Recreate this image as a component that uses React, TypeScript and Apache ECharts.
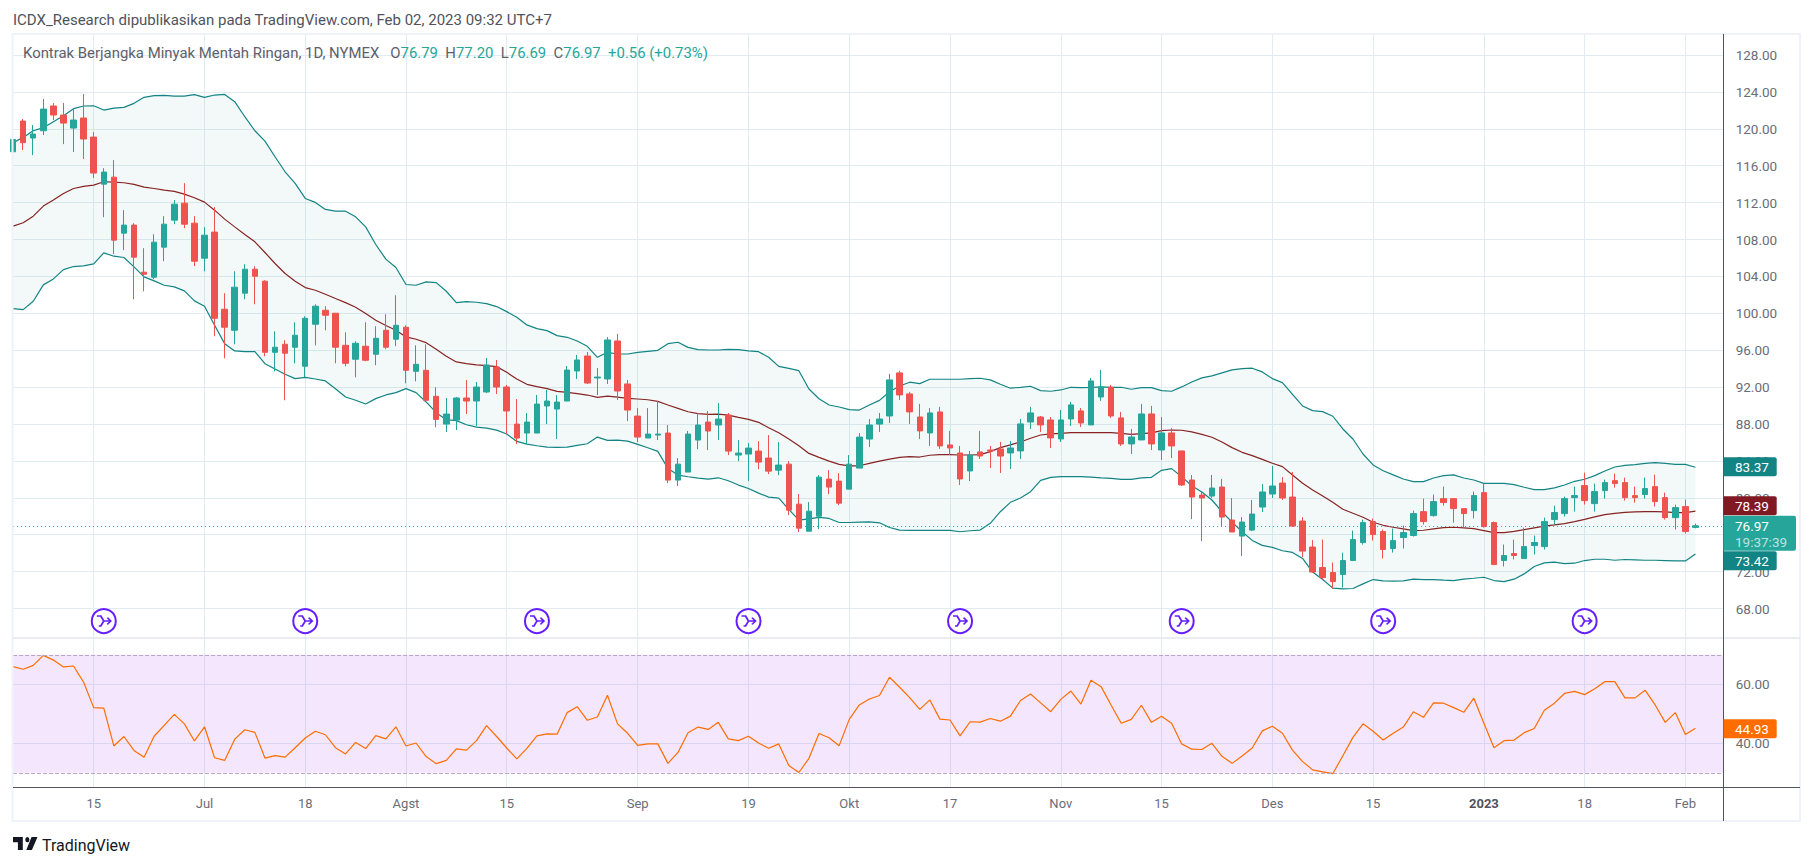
import React, { useEffect, useRef } from "react";
import * as echarts from "echarts";

// ---- dates ----
const tradingDays: [string, number[]][] = [
  ["2022-06", [3,6,7,8,9,10,13,14,15,16,17,21,22,23,24,27,28,29,30]],
  ["2022-07", [1,5,6,7,8,11,12,13,14,15,18,19,20,21,22,25,26,27,28,29]],
  ["2022-08", [1,2,3,4,5,8,9,10,11,12,15,16,17,18,19,22,23,24,25,26,29,30,31]],
  ["2022-09", [1,2,6,7,8,9,12,13,14,15,16,19,20,21,22,23,26,27,28,29,30]],
  ["2022-10", [3,4,5,6,7,10,11,12,13,14,17,18,19,20,21,24,25,26,27,28,31]],
  ["2022-11", [1,2,3,4,7,8,9,10,11,14,15,16,17,18,21,22,23,25,28,29,30]],
  ["2022-12", [1,2,5,6,7,8,9,12,13,14,15,16,19,20,21,22,23,27,28,29,30]],
  ["2023-01", [3,4,5,6,9,10,11,12,13,17,18,19,20,23,24,25,26,27,30,31]],
  ["2023-02", [1,2]],
];
const futureSlots = ["+1", "+2", "+3"];
const categories: string[] = tradingDays
  .flatMap(([m, ds]) => ds.map((d) => `${m}-${String(d).padStart(2, "0")}`))
  .concat(futureSlots);

const timeTicks: Record<string, string> = {
  "2022-06-15": "15", "2022-07-01": "Jul", "2022-07-18": "18", "2022-08-01": "Agst",
  "2022-08-15": "15", "2022-09-01": "Sep", "2022-09-19": "19", "2022-10-03": "Okt",
  "2022-10-17": "17", "2022-11-01": "Nov", "2022-11-15": "15", "2022-12-01": "Des",
  "2022-12-15": "15", "2023-01-03": "2023", "2023-01-18": "18", "2023-02-01": "Feb",
};

const eventDates = ["2022-06-16", "2022-07-18", "2022-08-18", "2022-09-19", "2022-10-18", "2022-11-17", "2022-12-16", "2023-01-18"];
const eventLevel = 66.64;

// ---- candles: open, close, low, high ----
const candles: number[][] = [
  [117.51,118.85,117.3,119.1],[120.84,118.49,117.69,121.06],[119.0,119.43,117.15,120.41],[119.79,122.14,119.32,123.23],
  [122.47,121.49,120.95,122.79],[121.49,120.62,118.34,122.79],[120.08,120.95,117.48,122.21],[121.17,118.89,116.72,123.77],
  [119.1,115.2,114.66,119.65],[114.0,115.31,110.42,115.74],[114.76,107.93,106.41,116.61],[108.69,109.56,106.84,111.18],
  [109.56,106.08,101.53,109.77],[104.46,104.24,102.39,107.06],[103.91,107.71,103.7,108.58],[107.17,109.66,105.65,110.53],
  [110.1,111.83,109.66,112.27],[111.94,109.66,109.23,114.11],[109.77,105.65,105.11,110.53],[105.97,108.47,104.56,109.34],
  [108.8,99.46,97.51,111.51],[100.44,98.49,95.12,102.18],[98.16,102.83,96.64,104.56],[102.18,104.78,101.53,105.32],
  [104.78,104.02,100.98,105.11],[103.48,95.77,95.34,103.59],[95.77,96.32,93.71,98.05],[96.64,95.67,90.57,97.08],
  [96.32,97.62,94.58,99.03],[94.26,99.46,93.06,99.68],[98.81,100.77,96.53,100.98],[100.33,99.79,98.16,100.77],
  [100.01,96.32,94.58,100.01],[96.53,94.58,94.26,97.94],[95.02,96.75,93.06,96.97],[96.43,94.91,94.8,99.03],
  [95.56,97.29,94.37,98.6],[98.16,96.32,96.1,99.9],[97.19,98.7,96.43,101.96],[98.49,93.82,92.41,98.7],
  [93.71,94.47,92.63,96.53],[93.82,90.57,90.57,96.64],[91.0,88.5,87.64,91.98],[87.99,89.08,87.13,90.82],
  [88.43,90.82,87.34,90.92],[90.82,90.49,89.08,92.77],[90.49,92.01,87.78,92.55],[91.47,94.4,91.36,95.16],
  [94.18,92.01,91.25,94.94],[92.01,89.41,86.91,92.23],[87.99,86.48,85.82,90.71],[87.02,88.21,85.82,89.19],
  [87.02,90.16,87.02,91.14],[89.95,90.49,87.99,91.68],[89.62,90.38,86.37,91.14],[90.49,93.85,90.49,94.29],
  [93.75,94.94,92.88,95.48],[95.37,92.44,92.34,95.81],[92.99,93.09,91.14,94.07],[92.88,97.11,92.34,97.43],
  [97.0,91.58,90.6,97.76],[92.34,89.51,88.32,92.77],[88.86,86.58,86.04,89.73],[86.48,86.91,86.48,89.73],
  [86.8,86.91,86.26,90.49],[87.02,81.92,81.59,87.89],[81.92,83.65,81.27,84.31],[82.79,86.91,82.79,87.24],
  [86.26,87.89,85.28,89.19],[88.21,87.24,85.17,89.41],[87.89,88.54,86.26,90.27],[88.97,85.06,84.63,89.19],
  [84.63,84.85,83.98,86.26],[84.74,85.39,81.81,85.93],[85.06,83.87,83.11,86.15],[84.31,82.89,82.57,86.8],
  [83.0,83.55,82.46,86.04],[83.65,78.66,78.12,83.98],[79.31,76.71,76.28,80.4],[76.38,78.55,76.38,79.53],
  [78.01,82.24,76.6,82.46],[82.03,81.16,80.4,83.0],[81.81,79.42,79.21,82.68],[80.94,83.65,80.94,84.63],
  [83.22,86.58,83.22,87.02],[86.37,87.89,85.5,88.54],[87.99,88.54,87.13,89.19],[88.87,92.78,88.11,93.43],
  [93.54,91.15,90.61,93.76],[91.26,89.31,88.01,91.48],[88.76,87.25,86.38,90.18],[87.03,89.2,85.62,89.74],
  [89.31,85.62,85.29,89.85],[85.73,85.4,84.64,87.25],[84.86,82.04,81.39,85.62],[82.91,84.64,81.82,85.08],
  [84.97,84.53,84.21,87.25],[85.18,85.08,83.23,85.62],[85.29,84.53,82.69,86.05],[84.86,85.4,83.12,86.16],
  [85.08,88.01,84.21,88.55],[88.22,89.2,87.46,89.85],[88.76,87.9,87.14,88.87],[88.44,86.49,85.4,88.76],
  [86.38,88.44,86.05,89.52],[88.55,90.07,87.79,90.39],[89.42,88.11,87.68,89.74],[87.9,92.67,87.9,93.0],
  [90.93,92.02,90.5,93.86],[91.98,88.87,88.66,92.24],[88.66,85.84,85.62,89.31],[85.84,86.59,84.75,87.46],
  [86.27,89.09,86.27,90.18],[89.09,85.84,85.18,89.96],[85.18,87.03,84.1,88.76],[87.03,85.62,84.32,87.57],
  [85.08,81.39,81.28,85.08],[81.93,80.08,77.7,82.47],[80.3,79.98,75.31,80.63],[80.19,81.06,79.98,82.47],
  [81.17,77.91,76.94,82.04],[77.59,76.29,76.29,79.98],[75.85,77.37,73.68,77.91],[76.5,78.24,76.39,79.76],
  [79.0,80.63,78.46,81.49],[80.41,81.28,79.98,83.45],[81.6,79.98,79.76,82.25],[80.08,76.94,76.83,82.8],
  [77.48,74.22,73.57,77.91],[74.66,71.95,71.84,75.42],[72.44,71.36,71.14,75.47],[71.9,70.92,70.17,72.98],
  [71.68,73.2,70.27,74.06],[73.2,75.47,73.2,76.45],[75.15,77.31,74.93,77.64],[77.42,76.01,75.36,77.75],
  [76.34,74.39,73.41,76.56],[74.5,75.36,74.06,76.66],[75.69,76.23,74.5,76.99],[75.91,78.29,75.8,78.61],
  [78.5,77.42,77.1,79.91],[78.07,79.59,77.96,80.35],[79.91,79.48,79.15,81.21],[79.91,78.83,77.31,79.91],
  [78.83,78.29,76.77,78.83],[78.61,80.24,77.75,80.67],[80.56,76.88,76.77,81.54],[77.31,72.76,72.76,77.42],
  [73.2,73.74,72.55,74.93],[73.96,73.74,73.31,75.47],[73.41,74.71,73.41,76.77],[74.82,75.15,73.85,75.91],
  [74.71,77.42,74.39,77.85],[77.64,78.4,77.1,79.15],[78.29,79.91,77.96,80.13],[80.02,80.24,78.5,81.21],
  [81.32,79.7,79.26,82.73],[79.37,80.67,78.5,81.54],[80.78,81.65,79.91,81.97],[81.86,81.54,81.1,82.62],
  [81.65,80.02,79.7,82.19],[80.24,80.02,79.48,81.21],[80.35,81.0,79.91,82.19],[81.21,79.59,79.05,82.51],
  [80.02,77.85,77.64,80.56],[77.85,78.94,76.56,79.26],[79.05,76.34,76.12,79.8],[76.79,76.97,76.69,77.2],
];

// ---- Bollinger bands ----
const bbUpper = [
  118.49,119.07,119.79,120.12,120.77,121.42,122.18,122.47,122.5,122.03,122.25,122.32,122.76,123.41,123.59,123.63,123.55,123.55,123.7,123.41,
  123.66,123.73,122.94,121.31,119.79,118.67,116.97,115.34,114.08,112.45,112.02,111.26,111.07,111.07,110.46,109.37,107.46,105.87,104.97,103.12,
  103.04,103.41,103.33,102.39,101.16,101.27,101.2,101.05,100.73,100.18,99.57,98.74,98.34,98.12,97.58,97.4,97.0,96.42,95.23,95.77,
  95.59,95.59,95.77,95.88,95.99,96.71,96.86,96.31,96.06,96.02,96.02,96.1,96.06,95.92,95.84,95.23,94.25,94.03,93.78,91.79,
  90.74,90.06,89.84,89.55,89.51,90.06,90.56,91.5,92.12,92.53,92.38,92.85,92.85,92.85,92.85,92.92,92.96,92.78,92.31,91.88,
  91.98,92.09,91.62,91.55,91.69,91.98,91.95,91.98,92.02,91.98,91.98,91.77,91.95,91.95,91.62,91.55,92.02,92.56,93.0,93.21,
  93.54,93.86,94.01,94.05,93.65,92.92,92.49,91.22,89.96,89.45,89.34,88.84,87.46,86.37,84.75,83.56,82.94,82.48,82.04,81.75,
  81.75,82.15,82.4,82.48,82.15,81.93,81.57,81.57,81.57,81.43,81.14,80.89,80.89,81.07,81.39,81.79,82.01,82.4,82.91,83.34,
  83.52,83.59,83.74,83.81,83.74,83.63,83.63,83.31,
];
const bbBasis = [
  109.45,109.81,110.53,111.62,112.27,112.99,113.53,113.75,113.9,114.26,114.22,114.15,113.97,113.68,113.53,113.35,113.21,112.92,112.52,112.05,
  111.18,110.21,109.37,108.54,107.75,106.59,105.4,104.31,103.48,102.79,102.5,102.07,101.6,101.16,100.66,99.97,99.25,98.67,98.16,97.44,
  97.19,96.82,96.1,95.34,94.73,94.54,94.4,94.32,94.22,93.6,92.88,92.3,92.05,91.83,91.54,91.43,91.29,91.14,90.89,91.03,
  90.92,90.78,90.71,90.63,90.45,90.06,89.69,89.33,89.12,89.04,89.08,88.97,88.72,88.5,88.18,87.6,87.05,86.37,85.64,84.81,
  84.38,83.98,83.62,83.47,83.47,83.73,83.98,84.2,84.38,84.46,84.42,84.61,84.68,84.68,84.64,84.64,84.68,85.0,85.44,85.73,
  86.05,86.45,86.81,86.92,86.99,87.06,87.06,87.06,87.06,87.06,86.99,86.88,86.96,87.03,87.28,87.35,87.32,87.14,86.88,86.56,
  86.05,85.44,84.93,84.57,84.17,83.74,83.38,82.47,81.57,80.84,80.19,79.51,78.76,78.32,77.89,77.35,77.02,76.81,76.63,76.45,
  76.48,76.63,76.77,76.81,76.74,76.66,76.45,76.23,76.23,76.37,76.56,76.74,76.92,77.06,77.21,77.42,77.67,77.93,78.18,78.32,
  78.43,78.47,78.5,78.5,78.47,78.4,78.4,78.55,
];
const bbLower = [
  100.51,100.4,101.31,103.08,103.73,104.74,105.07,105.14,105.36,106.55,106.19,106.05,105.03,103.95,103.52,103.04,102.86,102.43,101.35,100.77,
  98.7,96.71,95.92,95.85,95.85,94.54,93.97,93.39,92.92,93.06,92.88,92.67,91.83,90.93,90.57,90.17,90.75,91.15,91.4,91.83,
  91.4,90.39,89.23,88.47,88.36,87.92,87.67,87.56,87.34,86.91,86.11,85.82,85.64,85.5,85.46,85.5,85.68,85.86,86.58,86.22,
  86.26,86.15,85.79,85.43,85.03,83.18,82.46,82.28,82.14,82.03,82.17,81.85,81.38,81.01,80.51,80.07,79.97,78.74,77.58,77.72,
  77.87,77.76,77.32,77.32,77.36,77.4,77.29,76.78,76.49,76.47,76.47,76.47,76.47,76.47,76.32,76.43,76.5,77.23,78.49,79.51,
  79.98,80.66,81.89,82.22,82.29,82.29,82.29,82.25,82.15,82.11,82.0,82.0,82.15,82.22,82.98,83.16,82.29,81.31,80.63,79.76,
  78.49,77.37,76.32,75.38,74.84,74.62,74.26,74.08,73.43,71.95,71.15,70.21,70.13,70.17,70.67,71.14,71.0,70.96,71.0,71.18,
  71.14,71.14,71.07,71.03,71.18,71.28,71.39,71.03,70.92,71.18,71.75,72.55,72.95,73.02,72.87,72.91,73.2,73.34,73.34,73.23,
  73.31,73.27,73.23,73.23,73.2,73.16,73.16,73.92,
];

// ---- RSI ----
const rsi = [
  66.0,65.1,66.4,69.8,68.2,65.9,66.2,60.7,52.1,51.9,39.1,42.3,37.6,35.3,42.4,46.1,49.8,46.6,40.8,45.6,
  35.1,34.2,41.4,44.6,43.7,35.0,35.8,35.3,38.5,41.8,44.1,42.9,38.5,36.4,40.3,38.2,42.6,41.5,45.6,39.1,
  40.1,35.5,33.1,34.2,38.1,37.7,40.9,46.0,42.3,38.4,34.7,38.3,42.5,43.2,43.1,50.4,52.4,47.8,48.9,56.3,
  46.6,43.4,39.3,39.8,39.8,33.2,36.9,43.6,45.5,44.7,47.1,41.5,40.9,42.4,40.1,38.3,39.8,32.5,30.1,34.9,
  43.3,41.9,39.2,48.1,53.0,55.0,56.2,62.4,59.0,55.5,51.5,54.7,48.2,47.9,42.5,47.3,47.2,48.4,47.5,49.2,
  54.5,56.7,53.7,50.7,54.9,57.7,53.3,61.4,59.2,52.9,46.8,48.1,52.9,47.1,49.2,46.8,39.8,38.0,37.9,40.0,
  35.6,33.2,35.7,38.4,44.2,45.8,43.4,37.7,33.8,31.0,30.3,29.7,35.8,42.0,46.6,44.1,41.1,43.4,45.5,50.7,
  48.8,53.7,53.6,52.1,50.5,55.3,46.8,38.5,40.9,41.1,43.6,45.0,51.2,53.6,56.9,57.6,56.5,58.5,60.9,60.9,
  55.4,55.4,58.0,53.0,47.1,50.4,43.0,45.1,
];
const rsiBands = [30, 70];

const headerText = "ICDX_Research dipublikasikan pada TradingView.com, Feb 02, 2023 09:32 UTC+7";
const symbolTitle = "Kontrak Berjangka Minyak Mentah Ringan, 1D, NYMEX";
const ohlcLegend: [string, string][] = [["O", "76.79"], ["H", "77.20"], ["L", "76.69"], ["C", "76.97"]];
const changeLegend = "+0.56 (+0.73%)";
const countdown = "19:37:39";
const upperTag = 83.37, basisTag = 78.39, lowerTag = 73.42, closeTag = 76.97, rsiTag = 44.93;

const UP = "#26a69a", DOWN = "#ef5350", BAND = "#138484", BASIS = "#872323", RSI = "#ff6d00";
const GRIDLINE = "#e1ecf2", AXIS = "#50535e", TXT = "#6a6d78", FRAME = "#eff2f8", ICON = "#651fff";
const FONT = "Roboto";

const L = 13.1, BAR = 10.074;
const plotW = BAR * (categories.length - 1);
const RIGHT = 1723.5, FRAME_R = 1800, FRAME_B = 821;

echarts.graphic.registerShape(
  "tvlogo",
  echarts.graphic.extendPath("M14 6H0v6h7v9h7V6ZM27 21h-8l7.5-15h8.5L27 21ZM20.5 12a3 3 0 1 0 0-6 3 3 0 0 0 0 6Z", {}) as any
);

const isTick = (_i: number, v: string) => v in timeTicks;

const baseX = (gridIndex: number) => ({
  type: "category" as const,
  gridIndex,
  data: categories,
  boundaryGap: false,
  axisLine: { show: false },
  axisTick: { show: false },
  axisLabel: { show: false },
  splitLine: { show: false },
});

function buildOption(): any {
  const band = bbUpper.map((u, i) => +(u - bbLower[i]).toFixed(2));
  const last = candles[candles.length - 1][1];
  return {
    animation: false,
    backgroundColor: "#ffffff",
    grid: [
      { left: L, width: plotW, top: 18.1, height: 627.3 },
      { left: L, width: plotW, top: 625.3, height: 177 },
      { left: L, width: plotW, top: 34, height: 604 },
      { left: L, width: plotW, top: 638, height: 149.3 },
    ],
    xAxis: [
      baseX(0),
      baseX(1),
      { ...baseX(2), splitLine: { show: true, interval: isTick, lineStyle: { color: GRIDLINE, width: 1 } } },
      {
        ...baseX(3),
        splitLine: { show: true, interval: isTick, lineStyle: { color: GRIDLINE, width: 1 } },
        axisLabel: {
          show: true,
          interval: isTick,
          margin: 10,
          color: TXT,
          fontFamily: FONT,
          fontSize: 13,
          hideOverlap: false,
          formatter: (v: string) => {
            const t = timeTicks[v] ?? "";
            return t === "2023" ? `{b|${t}}` : t;
          },
          rich: { b: { fontWeight: "bold", color: AXIS, fontFamily: FONT, fontSize: 13 } },
        },
      },
    ],
    yAxis: [
      {
        type: "value", gridIndex: 0, position: "right", min: 64, max: 132, interval: 4,
        axisLine: { show: false }, axisTick: { show: false },
        splitLine: { show: true, showMinLine: false, showMaxLine: false, lineStyle: { color: GRIDLINE, width: 1 } },
        axisLabel: {
          margin: 10, color: TXT, fontFamily: FONT, fontSize: 13.5, showMinLabel: false, showMaxLabel: false,
          formatter: (v: number) => v.toFixed(2),
        },
      },
      {
        type: "value", gridIndex: 1, position: "right", min: 20, max: 80, interval: 20,
        axisLine: { show: false }, axisTick: { show: false },
        splitLine: { show: true, showMinLine: false, showMaxLine: false, lineStyle: { color: GRIDLINE, width: 1 } },
        axisLabel: {
          margin: 10, color: TXT, fontFamily: FONT, fontSize: 13.5, showMinLabel: false, showMaxLabel: false,
          formatter: (v: number) => v.toFixed(2),
        },
      },
      { type: "value", gridIndex: 2, show: false, min: 0, max: 1 },
      { type: "value", gridIndex: 3, show: false, min: 0, max: 1 },
    ],
    series: [
      {
        type: "line", xAxisIndex: 0, yAxisIndex: 0, stack: "bb", data: bbLower, symbol: "none",
        lineStyle: { opacity: 0 }, silent: true, z: 1,
      },
      {
        type: "line", xAxisIndex: 0, yAxisIndex: 0, stack: "bb", data: band, symbol: "none",
        lineStyle: { opacity: 0 }, areaStyle: { color: BAND, opacity: 0.05 }, silent: true, z: 1,
      },
      { type: "line", xAxisIndex: 0, yAxisIndex: 0, data: bbUpper, symbol: "none", lineStyle: { color: BAND, width: 1.2 }, z: 2 },
      { type: "line", xAxisIndex: 0, yAxisIndex: 0, data: bbLower, symbol: "none", lineStyle: { color: BAND, width: 1.2 }, z: 2 },
      { type: "line", xAxisIndex: 0, yAxisIndex: 0, data: bbBasis, symbol: "none", lineStyle: { color: BASIS, width: 1.2 }, z: 2 },
      {
        type: "candlestick", xAxisIndex: 0, yAxisIndex: 0, data: candles, barWidth: 6, z: 3,
        itemStyle: { color: UP, color0: DOWN, borderColor: UP, borderColor0: DOWN, borderWidth: 1 },
        markLine: {
          silent: true, symbol: "none", label: { show: false }, animation: false,
          lineStyle: { color: UP, type: [1, 3], width: 1.2 },
          data: [{ yAxis: last }],
        },
      },
      {
        type: "scatter", xAxisIndex: 0, yAxisIndex: 0, symbol: "circle", symbolSize: 24, z: 4, silent: true,
        data: eventDates.map((d) => [d, eventLevel]),
        itemStyle: { color: "#ffffff", borderColor: ICON, borderWidth: 2, opacity: 1 },
      },
      {
        type: "scatter", xAxisIndex: 0, yAxisIndex: 0, symbolSize: [14, 10], z: 5, silent: true,
        symbol: "path://M0 0H4L7 4.5H14M7 4.5L4 9H2M10.5 1.5L14 4.5L10.5 7.5L14 4.5Z",
        data: eventDates.map((d) => [d, eventLevel]),
        itemStyle: { color: "none", borderColor: ICON, borderWidth: 1.6, opacity: 1 },
      },
      {
        type: "line", xAxisIndex: 1, yAxisIndex: 1, data: rsi, symbol: "none", z: 3,
        lineStyle: { color: RSI, width: 1.2 },
        markArea: {
          silent: true, animation: false,
          itemStyle: { color: "rgba(155,37,240,0.11)" },
          data: [[{ yAxis: rsiBands[0] }, { yAxis: rsiBands[1] }]],
        },
        markLine: {
          silent: true, symbol: "none", label: { show: false }, animation: false,
          lineStyle: { color: "#b9a6c6", type: "dashed", width: 1 },
          data: rsiBands.map((b) => ({ yAxis: b })),
        },
      },
    ],
  };
}

function tag(chartY: number, text: string, bg: string, w = 53.2, h = 19, sub?: string): any[] {
  const z = 20;
  const tx = RIGHT + 11.5;
  const out: any[] = [
    { type: "rect", z, shape: { x: RIGHT, y: chartY - h / 2, width: w, height: h, r: [0, 2, 2, 0] }, style: { fill: bg } },
  ];
  if (sub) {
    out.push({ type: "text", z: z + 1, x: tx, y: chartY - h / 2 + 10, style: { text, fill: "#fff", font: `13.5px ${FONT}`, verticalAlign: "middle" } });
    out.push({ type: "text", z: z + 1, x: tx, y: chartY - h / 2 + 26, style: { text: sub, fill: "rgba(255,255,255,0.7)", font: `13.5px ${FONT}`, verticalAlign: "middle" } });
  } else {
    out.push({ type: "text", z: z + 1, x: tx, y: chartY, style: { text, fill: "#fff", font: `13.5px ${FONT}`, verticalAlign: "middle" } });
  }
  return out;
}

function buildGraphics(chart: echarts.ECharts): any[] {
  const py = (v: number) => chart.convertToPixel({ yAxisIndex: 0 }, v) as number;
  const ry = (v: number) => chart.convertToPixel({ yAxisIndex: 1 }, v) as number;
  const legendFont = `14.9px ${FONT}`;
  const rich: Record<string, any> = {
    t: { fill: "#5d606b", font: legendFont },
    v: { fill: UP, font: legendFont },
  };
  const legend =
    `{t|${symbolTitle}   }` +
    ohlcLegend.map(([k, v]) => `{t|${k}}{v|${v}  }`).join("") +
    `{v|${changeLegend}}`;
  return [
    { type: "rect", z: 10, shape: { x: RIGHT + 0.5, y: 34, width: 3, height: 754 }, style: { fill: "#fff" } },
    { type: "rect", z: 11, shape: { x: 12.5, y: 34, width: FRAME_R - 12.5, height: FRAME_B - 34 }, style: { fill: "none", stroke: FRAME, lineWidth: 2 } },
    { type: "line", z: 11, shape: { x1: 13, y1: 638, x2: FRAME_R, y2: 638 }, style: { stroke: "#e3e6ee", lineWidth: 1.5 } },
    { type: "line", z: 12, shape: { x1: 13, y1: 787.5, x2: FRAME_R, y2: 787.5 }, style: { stroke: AXIS, lineWidth: 1 } },
    { type: "line", z: 12, shape: { x1: RIGHT, y1: 34, x2: RIGHT, y2: FRAME_B }, style: { stroke: AXIS, lineWidth: 1 } },
    { type: "text", z: 12, x: 13, y: 20, style: { text: headerText, fill: AXIS, font: `15px ${FONT}`, verticalAlign: "middle" } },
    { type: "text", z: 12, x: 23, y: 53, style: { text: legend, rich, font: legendFont, verticalAlign: "middle" } },
    { type: "tvlogo", z: 12, x: 13, y: 831.8, scaleX: 0.7, scaleY: 0.87, style: { fill: "#131722" } },
    { type: "text", z: 12, x: 42, y: 845, style: { text: "TradingView", fill: "#131722", font: `16px ${FONT}`, verticalAlign: "middle" } },
    ...tag(py(upperTag), upperTag.toFixed(2), BAND),
    ...tag(py(basisTag) - 7, basisTag.toFixed(2), "#801922"),
    ...tag(py(closeTag) + 7.5, closeTag.toFixed(2), UP, 72.5, 35, countdown),
    ...tag(py(lowerTag) + 2.3, lowerTag.toFixed(2), BAND),
    ...tag(ry(rsiTag), rsiTag.toFixed(2), RSI),
  ];
}

export default function App() {
  const ref = useRef<HTMLDivElement>(null);
  useEffect(() => {
    if (!ref.current) return;
    document.body.style.margin = "0";
    const chart = echarts.init(ref.current, undefined, { renderer: "svg" });
    chart.setOption(buildOption());
    chart.setOption({ graphic: buildGraphics(chart) });
    return () => chart.dispose();
  }, []);
  return <div ref={ref} style={{ width: 1813, height: 866, background: "#fff" }} />;
}
